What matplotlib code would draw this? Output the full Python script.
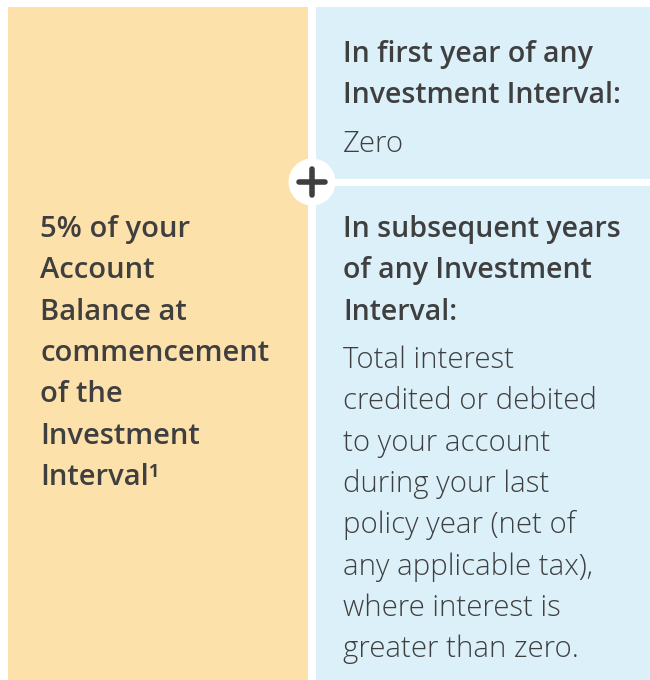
import matplotlib
matplotlib.use("Agg")
import matplotlib.pyplot as plt
from matplotlib.patches import Rectangle, Circle

# panel text
left_lines = ["5% of your", "Account", "Balance at", "commencement",
              "of the", "Investment", "Interval¹"]
top_head = ["In first year of any", "Investment Interval:"]
top_body = ["Zero"]
bottom_head = ["In subsequent years", "of any Investment", "Interval:"]
bottom_body = ["Total interest", "credited or debited", "to your account",
               "during your last", "policy year (net of",
               "any applicable tax),", "where interest is",
               "greater than zero."]

ORANGE = "#fde1aa"
BLUE = "#dcf0fa"
TEXT = "#3f3f3f"
FONT = ["Open Sans", "DejaVu Sans"]
HEAD_SIZE = 20.5
BODY_SIZE = 21.2

fig = plt.figure(figsize=(6.5, 6.8), dpi=100)
ax = fig.add_axes([0, 0, 1, 1])
ax.set_xlim(0, 650)
ax.set_ylim(680, 0)
ax.axis("off")

# panels
ax.add_patch(Rectangle((8, 7), 300, 680, color=ORANGE, lw=0))
ax.add_patch(Rectangle((316, 7), 340, 172, color=BLUE, lw=0))
ax.add_patch(Rectangle((316, 186), 340, 500, color=BLUE, lw=0))

# plus badge
ax.add_patch(Circle((312, 182), 23.5, color="white", lw=0, zorder=3))
ax.plot([299, 325], [182, 182], color=TEXT, lw=4, solid_capstyle="round", zorder=4)
ax.plot([312, 312], [169, 195], color=TEXT, lw=4, solid_capstyle="round", zorder=4)

step = 41.3


def block(lines, x, y0, weight, size):
    for i, s in enumerate(lines):
        ax.text(x, y0 + i * step, s, fontsize=size, family=FONT,
                fontweight=weight, color=TEXT, va="baseline", ha="left")


block(left_lines, 40, 237, "semibold", 21)
block(top_head, 343, 62, "semibold", HEAD_SIZE)
block(top_body, 343, 152, 300, BODY_SIZE)
block(bottom_head, 343, 237, "semibold", HEAD_SIZE)
block(bottom_body, 343, 368, 300, BODY_SIZE)

fig.savefig("out.png", dpi=100, facecolor="white")
